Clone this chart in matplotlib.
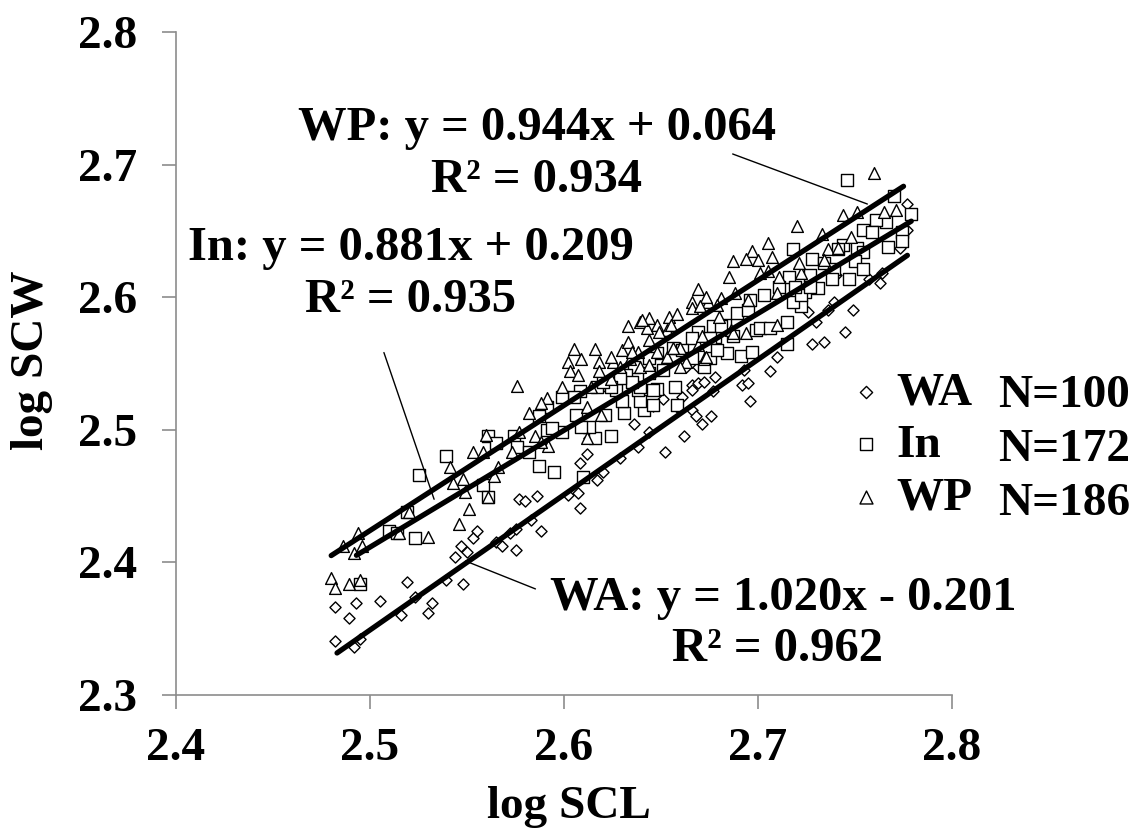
import matplotlib
matplotlib.use("Agg")
import matplotlib.pyplot as plt

plt.rcParams['font.family'] = ['Liberation Serif', 'DejaVu Serif']
plt.rcParams['font.weight'] = 'bold'

# WA (diamonds)
wa_x = [2.482, 2.492, 2.495, 2.482, 2.489, 2.493, 2.505, 2.519, 2.516, 2.523,
        2.530, 2.532, 2.539, 2.548, 2.544, 2.547, 2.550, 2.553, 2.555, 2.565,
        2.568, 2.572, 2.575, 2.575, 2.583, 2.588, 2.577, 2.580, 2.586, 2.608,
        2.602, 2.607, 2.617, 2.620, 2.608, 2.612, 2.629, 2.638, 2.644, 2.652,
        2.662, 2.636, 2.631, 2.646, 2.651, 2.658, 2.666, 2.668, 2.671, 2.676,
        2.661, 2.666, 2.669, 2.672, 2.677, 2.678, 2.693, 2.692, 2.695, 2.696,
        2.613, 2.777, 2.777, 2.773, 2.764, 2.763, 2.757, 2.749, 2.745, 2.734,
        2.728, 2.730, 2.736, 2.739, 2.726, 2.710, 2.706, 2.740, 2.663, 2.669,
        2.666]
wa_y = [2.341, 2.336, 2.342, 2.366, 2.358, 2.369, 2.371, 2.385, 2.360, 2.374,
        2.362, 2.369, 2.387, 2.384, 2.404, 2.412, 2.408, 2.418, 2.424, 2.415,
        2.412, 2.422, 2.409, 2.425, 2.432, 2.424, 2.448, 2.446, 2.450, 2.441,
        2.451, 2.452, 2.462, 2.468, 2.475, 2.482, 2.479, 2.487, 2.498, 2.483,
        2.495, 2.504, 2.513, 2.518, 2.523, 2.517, 2.515, 2.510, 2.504, 2.510,
        2.525, 2.534, 2.535, 2.536, 2.529, 2.540, 2.545, 2.534, 2.535, 2.522,
        2.494, 2.670, 2.651, 2.637, 2.618, 2.611, 2.614, 2.590, 2.574, 2.566,
        2.565, 2.581, 2.590, 2.596, 2.589, 2.555, 2.544, 2.617, 2.547, 2.547,
        2.530]

# In (squares)
in_x = [2.539, 2.525, 2.561, 2.574, 2.576, 2.558, 2.561, 2.510, 2.514, 2.523,
        2.519, 2.495, 2.587, 2.595, 2.591, 2.582, 2.610, 2.616, 2.624, 2.613,
        2.609, 2.599, 2.594, 2.621, 2.631, 2.641, 2.646, 2.658, 2.639, 2.657,
        2.648, 2.638, 2.630, 2.627, 2.672, 2.675, 2.684, 2.691, 2.697, 2.678,
        2.683, 2.689, 2.677, 2.669, 2.666, 2.656, 2.648, 2.644, 2.636, 2.632,
        2.623, 2.617, 2.608, 2.605, 2.599, 2.591, 2.695, 2.699, 2.746, 2.770,
        2.779, 2.766, 2.761, 2.754, 2.759, 2.767, 2.774, 2.718, 2.744, 2.751,
        2.728, 2.734, 2.739, 2.727, 2.716, 2.731, 2.724, 2.747, 2.741, 2.711,
        2.703, 2.696, 2.701, 2.706, 2.715, 2.722, 2.715, 2.687, 2.718, 2.722,
        2.774, 2.754, 2.750, 2.754, 2.738, 2.727, 2.719, 2.587, 2.565, 2.606,
        2.681, 2.675, 2.679, 2.661, 2.666, 2.651, 2.644, 2.646, 2.639, 2.635,
        2.629, 2.624, 2.620]
in_y = [2.480, 2.466, 2.495, 2.495, 2.487, 2.458, 2.449, 2.424, 2.422, 2.418,
        2.438, 2.384, 2.473, 2.468, 2.500, 2.483, 2.464, 2.494, 2.495, 2.502,
        2.502, 2.498, 2.501, 2.511, 2.513, 2.515, 2.519, 2.519, 2.522, 2.532,
        2.531, 2.530, 2.522, 2.530, 2.547, 2.554, 2.558, 2.556, 2.559, 2.570,
        2.579, 2.588, 2.578, 2.574, 2.569, 2.562, 2.558, 2.554, 2.547, 2.541,
        2.534, 2.532, 2.529, 2.525, 2.525, 2.517, 2.590, 2.575, 2.688, 2.676,
        2.663, 2.657, 2.658, 2.651, 2.649, 2.638, 2.649, 2.636, 2.639, 2.637,
        2.629, 2.626, 2.621, 2.617, 2.615, 2.607, 2.604, 2.614, 2.636, 2.608,
        2.602, 2.598, 2.577, 2.577, 2.581, 2.593, 2.565, 2.571, 2.596, 2.602,
        2.642, 2.634, 2.627, 2.621, 2.614, 2.608, 2.608, 2.510, 2.490, 2.511,
        2.578, 2.569, 2.560, 2.560, 2.554, 2.545, 2.543, 2.530, 2.532, 2.536,
        2.539, 2.532, 2.536]

# WP (triangles)
wp_x = [2.486, 2.494, 2.492, 2.496, 2.480, 2.482, 2.489, 2.495, 2.530, 2.515,
        2.520, 2.541, 2.551, 2.546, 2.548, 2.549, 2.564, 2.566, 2.560, 2.553,
        2.558, 2.561, 2.573, 2.577, 2.585, 2.592, 2.543, 2.576, 2.605, 2.616,
        2.602, 2.609, 2.618, 2.603, 2.607, 2.599, 2.591, 2.582, 2.612, 2.588,
        2.619, 2.612, 2.588, 2.618, 2.625, 2.630, 2.633, 2.639, 2.633, 2.643,
        2.648, 2.654, 2.658, 2.653, 2.644, 2.638, 2.634, 2.629, 2.639, 2.644,
        2.653, 2.660, 2.663, 2.672, 2.669, 2.666, 2.674, 2.680, 2.686, 2.694,
        2.614, 2.624, 2.705, 2.697, 2.694, 2.700, 2.707, 2.687, 2.685, 2.701,
        2.705, 2.669, 2.673, 2.681, 2.688, 2.666, 2.644, 2.640, 2.670, 2.655,
        2.649, 2.635, 2.624, 2.648, 2.656, 2.660, 2.673, 2.679, 2.760, 2.744,
        2.751, 2.771, 2.765, 2.720, 2.733, 2.748, 2.736, 2.711, 2.722, 2.695,
        2.710, 2.687, 2.710, 2.671, 2.721, 2.741, 2.734]
wp_y = [2.412, 2.422, 2.407, 2.412, 2.388, 2.381, 2.384, 2.387, 2.419, 2.422,
        2.438, 2.472, 2.440, 2.429, 2.463, 2.453, 2.465, 2.472, 2.496, 2.483,
        2.483, 2.449, 2.483, 2.498, 2.495, 2.488, 2.460, 2.533, 2.561, 2.561,
        2.551, 2.553, 2.551, 2.544, 2.541, 2.532, 2.524, 2.513, 2.517, 2.520,
        2.511, 2.494, 2.491, 2.544, 2.551, 2.560, 2.566, 2.581, 2.578, 2.577,
        2.579, 2.585, 2.587, 2.575, 2.568, 2.559, 2.553, 2.547, 2.547, 2.549,
        2.555, 2.562, 2.551, 2.553, 2.564, 2.596, 2.596, 2.585, 2.575, 2.573,
        2.532, 2.538, 2.641, 2.635, 2.629, 2.628, 2.630, 2.627, 2.615, 2.618,
        2.620, 2.606, 2.600, 2.599, 2.603, 2.592, 2.584, 2.583, 2.593, 2.579,
        2.574, 2.559, 2.555, 2.559, 2.562, 2.547, 2.555, 2.594, 2.694, 2.662,
        2.664, 2.666, 2.664, 2.654, 2.648, 2.645, 2.636, 2.615, 2.618, 2.598,
        2.603, 2.573, 2.579, 2.571, 2.626, 2.637, 2.628]

# regression fits: slope, intercept, x range
fits = {
    'WA': (1.020, -0.201, 2.483, 2.777),
    'In': (0.881, 0.209, 2.493, 2.779),
    'WP': (0.944, 0.064, 2.480, 2.775),
}
counts = {'WA': 100, 'In': 172, 'WP': 186}

fig = plt.figure(figsize=(11.4, 8.34), dpi=100)
ax = fig.add_axes([0.1544, 0.1667, 0.6807, 0.7950])

h_wa = ax.scatter(wa_x, wa_y, s=32, marker='D', facecolors='white', edgecolors='black', linewidths=1.0, zorder=3)
h_in = ax.scatter(in_x, in_y, s=64, marker='s', facecolors='white', edgecolors='black', linewidths=1.0, zorder=3)
h_wp = ax.scatter(wp_x, wp_y, s=72, marker='^', facecolors='white', edgecolors='black', linewidths=1.0, zorder=3)

for name in ['WA', 'In', 'WP']:
    m, b, x0, x1 = fits[name]
    ax.plot([x0, x1], [m * x0 + b, m * x1 + b], color='black', lw=3.8,
            solid_capstyle='round', zorder=4)

ax.set_xlim(2.4, 2.8)
ax.set_ylim(2.3, 2.8)
ax.set_xticks([2.4, 2.5, 2.6, 2.7, 2.8])
ax.set_yticks([2.3, 2.4, 2.5, 2.6, 2.7, 2.8])
ax.set_xticklabels(['2.4', '2.5', '2.6', '2.7', '2.8'])
ax.set_yticklabels(['2.3', '2.4', '2.5', '2.6', '2.7', '2.8'])

for s in ['top', 'right']:
    ax.spines[s].set_visible(False)
for s in ['left', 'bottom']:
    ax.spines[s].set_color('#8c8c8c')
    ax.spines[s].set_linewidth(1.2)
ax.tick_params(axis='both', direction='out', length=10, width=1.2, color='#8c8c8c',
               labelsize=34)
ax.tick_params(axis='x', pad=14)
ax.tick_params(axis='y', pad=18)

ax.set_xlabel('log SCL', fontsize=34, fontweight='bold')
ax.set_ylabel('log SCW', fontsize=34, fontweight='bold')
ax.xaxis.set_label_coords(0.506, -0.137)
ax.yaxis.set_label_coords(-0.158, 0.505)

# equations
fs = 35
ax.text(2.586, 2.7276, 'WP: y = 0.944x + 0.064', fontsize=fs, ha='center', va='center')
ax.text(2.586, 2.6884, 'R² = 0.934', fontsize=fs, ha='center', va='center')
ax.text(2.521, 2.637, 'In: y = 0.881x + 0.209', fontsize=fs, ha='center', va='center')
ax.text(2.521, 2.598, 'R² = 0.935', fontsize=fs, ha='center', va='center')
ax.text(2.713, 2.373, 'WA: y = 1.020x - 0.201', fontsize=fs, ha='center', va='center')
ax.text(2.710, 2.335, 'R² = 0.962', fontsize=fs, ha='center', va='center')

line_kw = dict(arrowstyle='-', color='black', lw=1.0)
ax.annotate('', xy=(2.7577, 2.6695), xytext=(2.6856, 2.7087), arrowprops=line_kw)
ax.annotate('', xy=(2.5335, 2.4456), xytext=(2.5067, 2.5602), arrowprops=line_kw)
ax.annotate('', xy=(2.5866, 2.3792), xytext=(2.5479, 2.4018), arrowprops=line_kw)

# legend
leg = fig.legend([h_wa, h_in, h_wp], ['WA', 'In', 'WP'], loc='upper left',
                 bbox_to_anchor=(0.747, 0.555), frameon=False, fontsize=34,
                 markerscale=1.1, handlelength=0.6, handletextpad=0.35,
                 labelspacing=0.2, borderpad=0, borderaxespad=0)
for i, name in enumerate(['WA', 'In', 'WP']):
    fig.text(0.8754, 1 - (407 + i * 54) / 834, 'N=%d' % counts[name],
             fontsize=34, ha='left', va='baseline')

fig.savefig('out.png', dpi=100)
